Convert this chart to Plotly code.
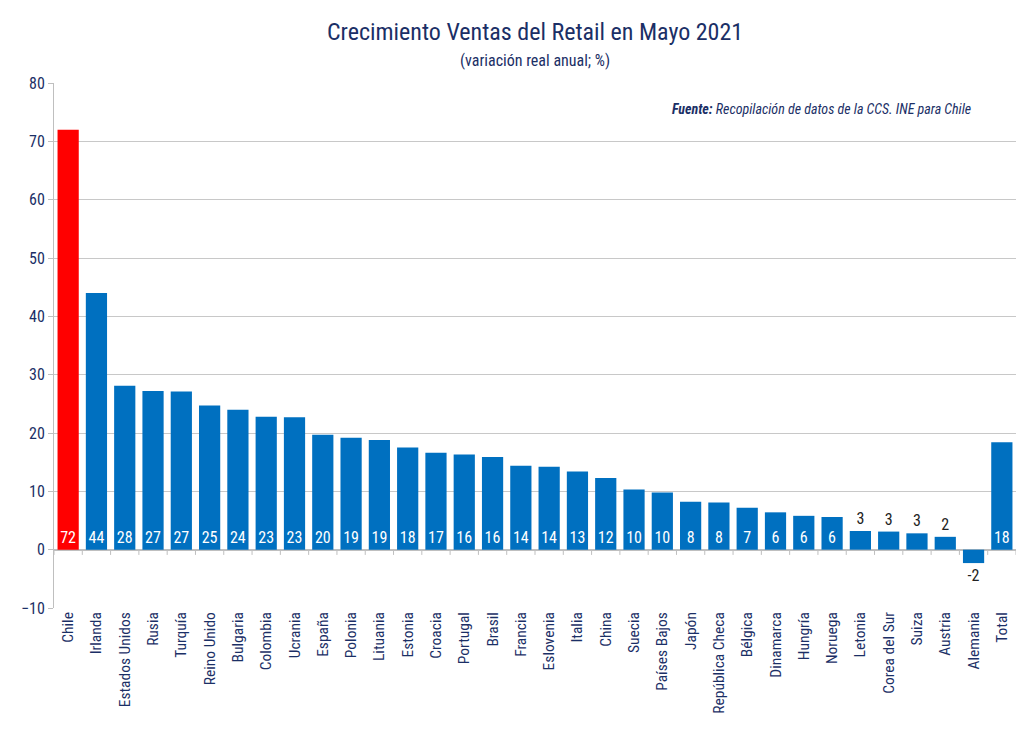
import plotly.graph_objects as go

categories = ["Chile", "Irlanda", "Estados Unidos", "Rusia", "Turquía", "Reino Unido", "Bulgaria",
              "Colombia", "Ucrania", "España", "Polonia", "Lituania", "Estonia", "Croacia", "Portugal",
              "Brasil", "Francia", "Eslovenia", "Italia", "China", "Suecia", "Países Bajos", "Japón",
              "República Checa", "Bélgica", "Dinamarca", "Hungría", "Noruega", "Letonia",
              "Corea del Sur", "Suiza", "Austria", "Alemania", "Total"]
values = [72.0, 44.0, 28.1, 27.2, 27.1, 24.7, 24.0, 22.8, 22.7, 19.7, 19.2, 18.8, 17.5, 16.6, 16.3,
          15.9, 14.4, 14.2, 13.4, 12.3, 10.3, 9.8, 8.2, 8.1, 7.2, 6.4, 5.8, 5.6, 3.2, 3.1, 2.8, 2.2,
          -2.3, 18.4]
y_ticks = [-10, 0, 10, 20, 30, 40, 50, 60, 70, 80]

FONT = "Roboto Condensed, Liberation Sans Narrow, DejaVu Sans Condensed, Arial Narrow, sans-serif"
NAVY = "#1b2f66"

colors = ["#FF0000" if c == "Chile" else "#0070C0" for c in categories]
positions = ["inside" if v >= 5 else "outside" for v in values]
text_colors = ["white" if v >= 5 else "#222222" for v in values]

fig = go.Figure()
fig.add_trace(go.Bar(
    x=categories, y=values, marker_color=colors, width=0.75,
    marker_line_width=0,
    texttemplate="%{y:.0f}", textposition=positions, insidetextanchor="start",
    textangle=0, constraintext="none", cliponaxis=False,
    textfont=dict(family=FONT, size=16, color=text_colors),
))

# category-boundary tick marks along the zero line
for i in range(len(categories) + 1):
    fig.add_shape(type="line", xref="x", yref="y", x0=i - 0.5, x1=i - 0.5, y0=0, y1=-0.9,
                  line=dict(color="#bfbfbf", width=1))

fig.update_layout(
    width=1024, height=742,
    paper_bgcolor="white", plot_bgcolor="white",
    margin=dict(l=54, r=8, t=83, b=134, autoexpand=False),
    font=dict(family=FONT, color=NAVY),
    showlegend=False,
    bargap=0.25,
)
fig.update_xaxes(tickangle=-90, tickfont=dict(family=FONT, size=15.5, color=NAVY),
                 showline=False, ticks="", range=[-0.5, len(categories) - 0.5], automargin=False)
fig.update_yaxes(range=[-10, 80], tickvals=y_ticks, showgrid=True, gridcolor="#c8c8c8",
                 zeroline=True, zerolinecolor="#bfbfbf", zerolinewidth=1.5,
                 showline=True, linecolor="#bfbfbf", ticks="outside", ticklen=5, tickcolor="#bfbfbf",
                 tickfont=dict(family=FONT, size=16, color=NAVY), automargin=False)

fig.add_annotation(xref="paper", yref="paper", x=0.5, y=1, yshift=51, xanchor="center", yanchor="middle",
                   text="Crecimiento Ventas del Retail en Mayo 2021", showarrow=False,
                   font=dict(family=FONT, size=24, color=NAVY))
fig.add_annotation(xref="paper", yref="paper", x=0.5, y=1, yshift=23, xanchor="center", yanchor="middle",
                   text="(variación real anual; %)", showarrow=False,
                   font=dict(family=FONT, size=16, color=NAVY))
fig.add_annotation(xref="paper", yref="paper", x=0.955, y=0.95, xanchor="right", yanchor="middle",
                   text="<b><i>Fuente:</i></b><i> Recopilación de datos de la CCS. INE para Chile</i>",
                   showarrow=False, font=dict(family=FONT, size=14, color=NAVY))

fig.write_html("out.html", config={"displayModeBar": False},
               post_script="document.body.style.margin='0';")
